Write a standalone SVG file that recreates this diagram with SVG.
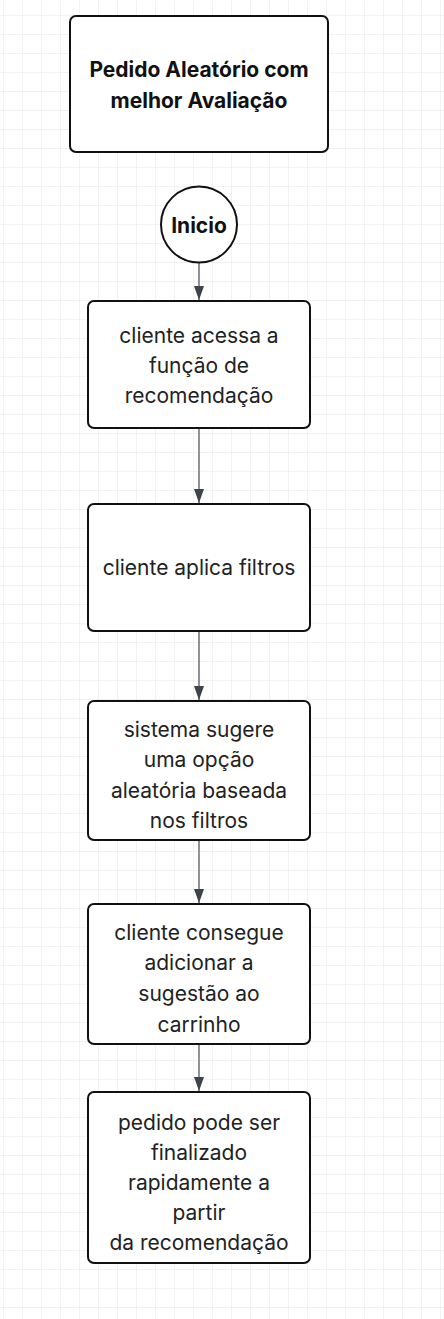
<svg xmlns="http://www.w3.org/2000/svg" width="444" height="1319" viewBox="0 0 444 1319">
<defs>
<pattern id="grid" x="3" y="15" width="19" height="19" patternUnits="userSpaceOnUse">
<path d="M0 0H19M0 0V19" fill="none" stroke="#e6e6e6" stroke-width="1"/>
</pattern>
<marker id="arr" viewBox="0 0 14 10" refX="14" refY="5" markerWidth="14" markerHeight="10" markerUnits="userSpaceOnUse" orient="auto">
<path d="M0 0L14 5L0 10Z" fill="#3f434c"/>
</marker>
</defs>
<style>
.box{fill:#fff;stroke:#111;stroke-width:2}
.t{font-family:Inter,"Noto Sans",sans-serif;font-size:21px;fill:#222;text-anchor:middle}
.b{font-family:Inter,"Noto Sans",sans-serif;font-size:21px;font-weight:700;fill:#111;text-anchor:middle}
.c{stroke:#6b6e75;stroke-width:1.5;fill:none}
</style>
<rect width="444" height="1319" fill="#fff"/>
<rect width="444" height="1319" fill="url(#grid)"/>
<g id="connectors">
<path class="c" d="M199 262.5V300" marker-end="url(#arr)"/>
<path class="c" d="M199 428V503" marker-end="url(#arr)"/>
<path class="c" d="M199 631V700" marker-end="url(#arr)"/>
<path class="c" d="M199 840V903" marker-end="url(#arr)"/>
<path class="c" d="M199 1044V1091" marker-end="url(#arr)"/>
</g>
<g id="title">
<rect class="box" x="70" y="16" width="258" height="136" rx="6"/>
<text class="b" x="199" y="77">Pedido Aleatório com</text>
<text class="b" x="199" y="108">melhor Avaliação</text>
</g>
<g id="inicio">
<circle class="box" cx="199" cy="224.5" r="38"/>
<text class="b" x="199" y="232.5">Inicio</text>
</g>
<g id="n1">
<rect class="box" x="88" y="301" width="222" height="127" rx="6"/>
<text class="t" x="199" y="343">cliente acessa a</text>
<text class="t" x="199" y="373">função de</text>
<text class="t" x="199" y="403">recomendação</text>
</g>
<g id="n2">
<rect class="box" x="88" y="504" width="222" height="127" rx="6"/>
<text class="t" x="199" y="575">cliente aplica filtros</text>
</g>
<g id="n3">
<rect class="box" x="88" y="701" width="222" height="139" rx="6"/>
<text class="t" x="199" y="737">sistema sugere</text>
<text class="t" x="199" y="767">uma opção</text>
<text class="t" x="199" y="797.5">aleatória baseada</text>
<text class="t" x="199" y="828">nos filtros</text>
</g>
<g id="n4">
<rect class="box" x="88" y="904" width="222" height="140" rx="6"/>
<text class="t" x="199" y="939.5">cliente consegue</text>
<text class="t" x="199" y="970">adicionar a</text>
<text class="t" x="199" y="1001">sugestão ao</text>
<text class="t" x="199" y="1031.5">carrinho</text>
</g>
<g id="n5">
<rect class="box" x="88" y="1092" width="222" height="171" rx="6"/>
<text class="t" x="199" y="1130">pedido pode ser</text>
<text class="t" x="199" y="1159.5">finalizado</text>
<text class="t" x="199" y="1189.5">rapidamente a</text>
<text class="t" x="199" y="1219.5">partir</text>
<text class="t" x="199" y="1250">da recomendação</text>
</g>
</svg>
